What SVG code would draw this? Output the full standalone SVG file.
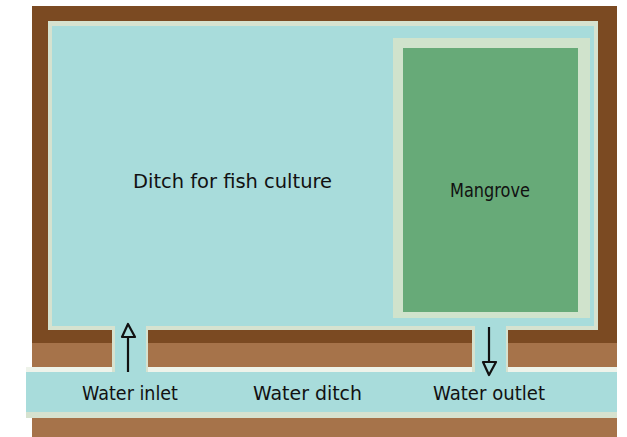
<svg xmlns="http://www.w3.org/2000/svg" width="627" height="437" viewBox="0 0 627 437">
<style>
.water{fill:#a8dcdb}
.dark{fill:#7b4a22}
.light{fill:#a6734a}
.cream{fill:#d6e2cf}
.lbl{font-family:"DejaVu Sans","Liberation Sans",sans-serif;fill:#111;font-size:19px}
.arr{fill:none;stroke:#111;stroke-width:2.2;stroke-linejoin:round}
</style>
<rect width="627" height="437" fill="#ffffff"/>
<g id="pond">
<rect class="dark" x="32" y="6" width="585" height="340"/>
<rect class="light" x="32" y="343" width="585" height="26"/>
<rect class="cream" x="48" y="21" width="550" height="309"/>
<rect class="water" x="52" y="26" width="542" height="300"/>
</g>
<g id="mangrove">
<rect fill="#d0e3cc" x="393" y="38" width="197" height="280"/>
<rect fill="#67aa78" x="403" y="48" width="175" height="264"/>
<text class="lbl" x="450" y="197" font-size="20" textLength="80" lengthAdjust="spacingAndGlyphs">Mangrove</text>
</g>
<g id="ditch">
<rect fill="#eef3ea" x="26" y="367" width="591" height="5"/>
<rect class="water" x="26" y="372" width="591" height="41"/>
<rect class="cream" x="26" y="412" width="591" height="6"/>
<rect class="light" x="32" y="418" width="585" height="19"/>
<text class="lbl" x="253" y="400" textLength="109" lengthAdjust="spacingAndGlyphs">Water ditch</text>
</g>
<g id="inlet">
<rect class="cream" x="112" y="326" width="36" height="46"/>
<rect class="water" x="115" y="326" width="31" height="47"/>
<text class="lbl" x="82" y="400" textLength="96" lengthAdjust="spacingAndGlyphs">Water inlet</text>
</g>
<g id="outlet">
<rect class="cream" x="472" y="326" width="36" height="46"/>
<rect class="water" x="475" y="326" width="31" height="47"/>
<text class="lbl" x="433" y="400" textLength="112" lengthAdjust="spacingAndGlyphs">Water outlet</text>
</g>
<g id="fishditch">
<text class="lbl" x="133" y="188" font-size="20" textLength="199" lengthAdjust="spacingAndGlyphs">Ditch for fish culture</text>
</g>
<g id="connectors">
<path class="arr" d="M128 372 V337"/>
<path class="arr" d="M122 337 L128 324 L135 337 Z"/>
<path class="arr" d="M489 327 V362"/>
<path class="arr" d="M483 362 L489 375 L496 362 Z"/>
</g>
</svg>
